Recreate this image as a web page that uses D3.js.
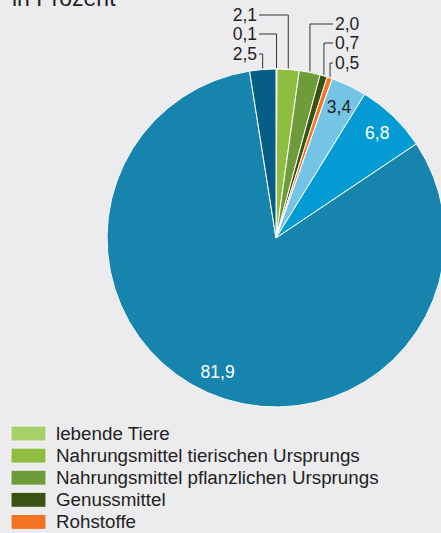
<!DOCTYPE html>
<html>
<head>
<meta charset="utf-8">
<script src="https://cdn.jsdelivr.net/npm/d3@7"></script>
<style>
  html, body { margin: 0; padding: 0; background: #ececee; overflow: hidden; }
  text { font-family: "Liberation Sans", Arial, sans-serif; fill: #222; }
</style>
</head>
<body>
<div id="chart"></div>
<script>
var svgWidth = 441;
var svgHeight = 533;

// slices clockwise from 12 o'clock
var categories = ["lebende Tiere", "Nahrungsmittel tierischen Ursprungs", "Nahrungsmittel pflanzlichen Ursprungs",
  "Genussmittel", "Rohstoffe", "Halbwaren", "Vorerzeugnisse", "Enderzeugnisse", "Rückwaren"];
var values = [0.1, 2.1, 2.0, 0.7, 0.5, 3.4, 6.8, 81.9, 2.5];
var colors = ["#a6d06a", "#8fbd3f", "#6f9c3a", "#3a5312", "#f47322", "#74c5e5", "#049ad4", "#1784ad", "#045e85"];
var title = "in Prozent";

var cx = 276, cy = 238, radius = 169;
var fmt = function(v) { return d3.format(".1f")(v).replace(".", ","); };

var svg = d3.select("#chart")
  .append("svg")
  .attr("width", svgWidth)
  .attr("height", svgHeight);

svg.append("text")
  .attr("x", 12)
  .attr("y", 6)
  .attr("font-size", 23)
  .text(title);

var pie = d3.pie().sort(null).value(d => d)(values);
var arc = d3.arc().innerRadius(0).outerRadius(radius);

var pieGroup = svg.append("g")
  .attr("transform", `translate(${cx}, ${cy})`);

pieGroup.selectAll("path")
  .data(pie)
  .enter()
  .append("path")
  .attr("d", arc)
  .attr("fill", (d, i) => colors[i])
  .attr("stroke", "#fff")
  .attr("stroke-width", 1);

// inside labels
var inner = d3.arc().innerRadius(146).outerRadius(146);
var insideIdx = [5, 6, 7];
pieGroup.selectAll("text.inside")
  .data(insideIdx)
  .enter()
  .append("text")
  .attr("class", "inside")
  .attr("transform", i => `translate(${inner.centroid(pie[i])})`)
  .attr("text-anchor", "middle")
  .attr("dy", "0.36em")
  .attr("font-size", 17.5)
  .style("fill", i => i == 5 ? "#222" : "#fff")
  .text(i => fmt(values[i]));

// outside labels with leader lines
var callouts = [
  {i: 1, y: 15, side: "left"},
  {i: 0, y: 34, side: "left"},
  {i: 8, y: 54, side: "left"},
  {i: 2, y: 24, side: "right"},
  {i: 3, y: 43, side: "right"},
  {i: 4, y: 63, side: "right"}
];

callouts.forEach(function(c) {
  var a = (pie[c.i].startAngle + pie[c.i].endAngle) / 2;
  var ex = cx + (radius + 1) * Math.sin(a);
  var ey = cy - (radius + 1) * Math.cos(a);
  var lx = c.side == "left" ? 259 : 333;
  svg.append("path")
    .attr("d", `M${lx},${c.y}H${ex}V${ey}`)
    .attr("fill", "none")
    .attr("stroke", "#333")
    .attr("stroke-width", 1);
  svg.append("text")
    .attr("x", c.side == "left" ? 257 : 335)
    .attr("y", c.y + 6)
    .attr("text-anchor", c.side == "left" ? "end" : "start")
    .attr("font-size", 17.5)
    .text(fmt(values[c.i]));
});

// legend (only the rows that fit on the page)
var rowH = 22.1, legendTop = 426;
var legend = svg.selectAll("g.legend")
  .data(categories.filter((d, i) => legendTop + i * rowH + 15 < svgHeight))
  .enter()
  .append("g")
  .attr("class", "legend")
  .attr("transform", (d, i) => `translate(11, ${legendTop + i * rowH})`);

legend.append("rect")
  .attr("width", 35)
  .attr("height", 15)
  .attr("fill", (d, i) => colors[i])
  .attr("stroke", "#f6f6f6")
  .attr("stroke-width", 1);

legend.append("text")
  .attr("x", 45)
  .attr("y", 14)
  .attr("font-size", 18.8)
  .text(d => d);
</script>
</body>
</html>
